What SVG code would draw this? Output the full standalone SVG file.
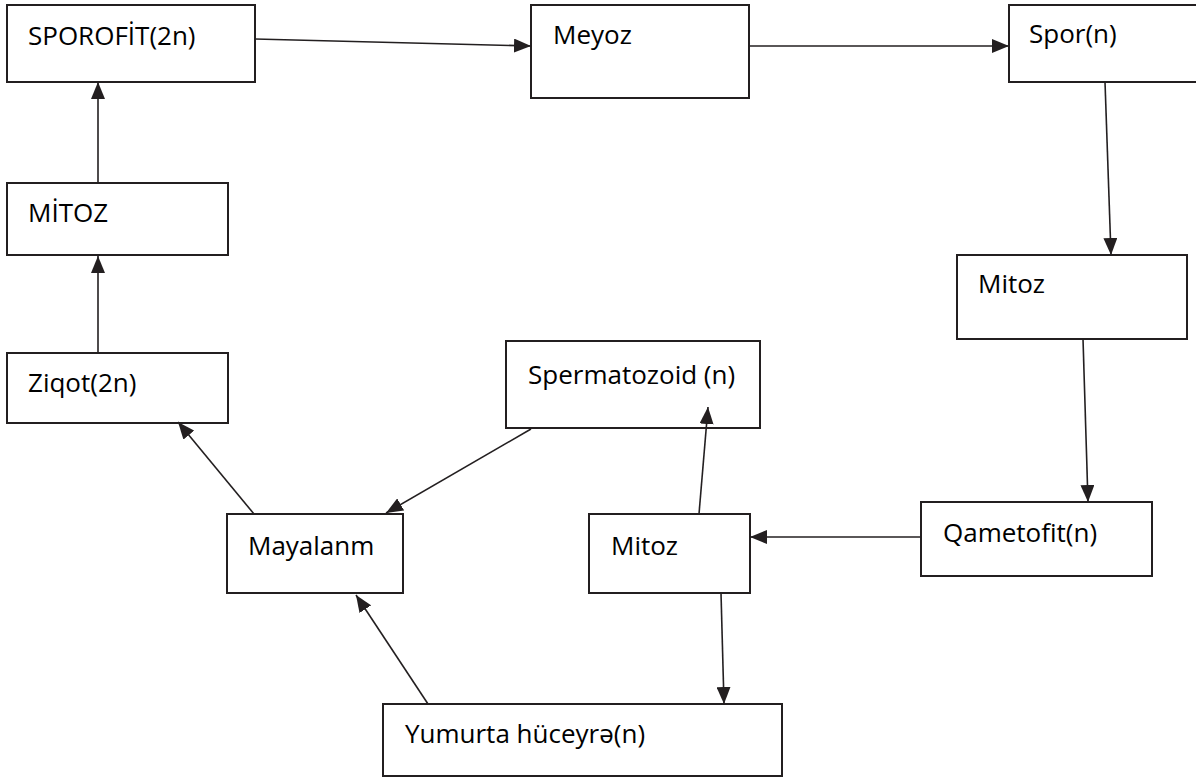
<svg xmlns="http://www.w3.org/2000/svg" width="1196" height="778" viewBox="0 0 1196 778">
<style>
.box{fill:#fff;stroke:#231f20;stroke-width:2}
.lbl{font-family:"Open Sans","Liberation Sans",sans-serif;font-size:26px;fill:#000}
.cn{stroke:#231f20;stroke-width:1.6;fill:none;marker-end:url(#ah)}
</style>
<defs>
<marker id="ah" markerUnits="userSpaceOnUse" markerWidth="18" markerHeight="14" refX="17" refY="7" orient="auto">
<path d="M0,0 L17,7 L0,14 z" fill="#231f20"/>
</marker>
</defs>
<rect width="1196" height="778" fill="#fff"/>
<g id="sporofit"><rect class="box" x="7" y="5" width="248" height="77"/><text class="lbl" x="28" y="45">SPOROFİT(2n)</text></g>
<g id="meyoz"><rect class="box" x="531" y="5" width="218" height="93"/><text class="lbl" x="553" y="44">Meyoz</text></g>
<g id="spor"><rect class="box" x="1009" y="5" width="200" height="77"/><text class="lbl" x="1029" y="43">Spor(n)</text></g>
<g id="mitoz-1"><rect class="box" x="7" y="183" width="221" height="72"/><text class="lbl" x="28" y="222">MİTOZ</text></g>
<g id="mitoz-2"><rect class="box" x="957" y="255" width="230" height="84"/><text class="lbl" x="978" y="293">Mitoz</text></g>
<g id="ziqot"><rect class="box" x="7" y="353" width="221" height="70"/><text class="lbl" x="28" y="392">Ziqot(2n)</text></g>
<g id="spermatozoid"><rect class="box" x="506" y="341" width="254" height="87"/><text class="lbl" x="528" y="384">Spermatozoid (n)</text></g>
<g id="mayalanm"><rect class="box" x="227" y="514" width="176" height="79"/><text class="lbl" x="248" y="555">Mayalanm</text></g>
<g id="mitoz-3"><rect class="box" x="589" y="514" width="161" height="79"/><text class="lbl" x="611" y="555">Mitoz</text></g>
<g id="qametofit"><rect class="box" x="921" y="502" width="231" height="74"/><text class="lbl" x="943" y="542">Qametofit(n)</text></g>
<g id="yumurta"><rect class="box" x="383" y="704" width="399" height="72"/><text class="lbl" x="405" y="743">Yumurta hüceyrə(n)</text></g>
<g id="connectors">
<line class="cn" x1="255" y1="39" x2="531" y2="46"/>
<line class="cn" x1="749" y1="46" x2="1009" y2="46"/>
<line class="cn" x1="1105" y1="82" x2="1111" y2="255"/>
<line class="cn" x1="1083" y1="339" x2="1088" y2="502"/>
<line class="cn" x1="921" y1="537" x2="750" y2="537"/>
<line class="cn" x1="699" y1="514" x2="708" y2="407"/>
<line class="cn" x1="721" y1="593" x2="724" y2="704"/>
<line class="cn" x1="531" y1="429" x2="386" y2="513"/>
<line class="cn" x1="428" y1="704" x2="356" y2="595"/>
<line class="cn" x1="254" y1="514" x2="178" y2="422"/>
<line class="cn" x1="98" y1="353" x2="98" y2="256"/>
<line class="cn" x1="98" y1="183" x2="98" y2="82"/>
</g>
</svg>
